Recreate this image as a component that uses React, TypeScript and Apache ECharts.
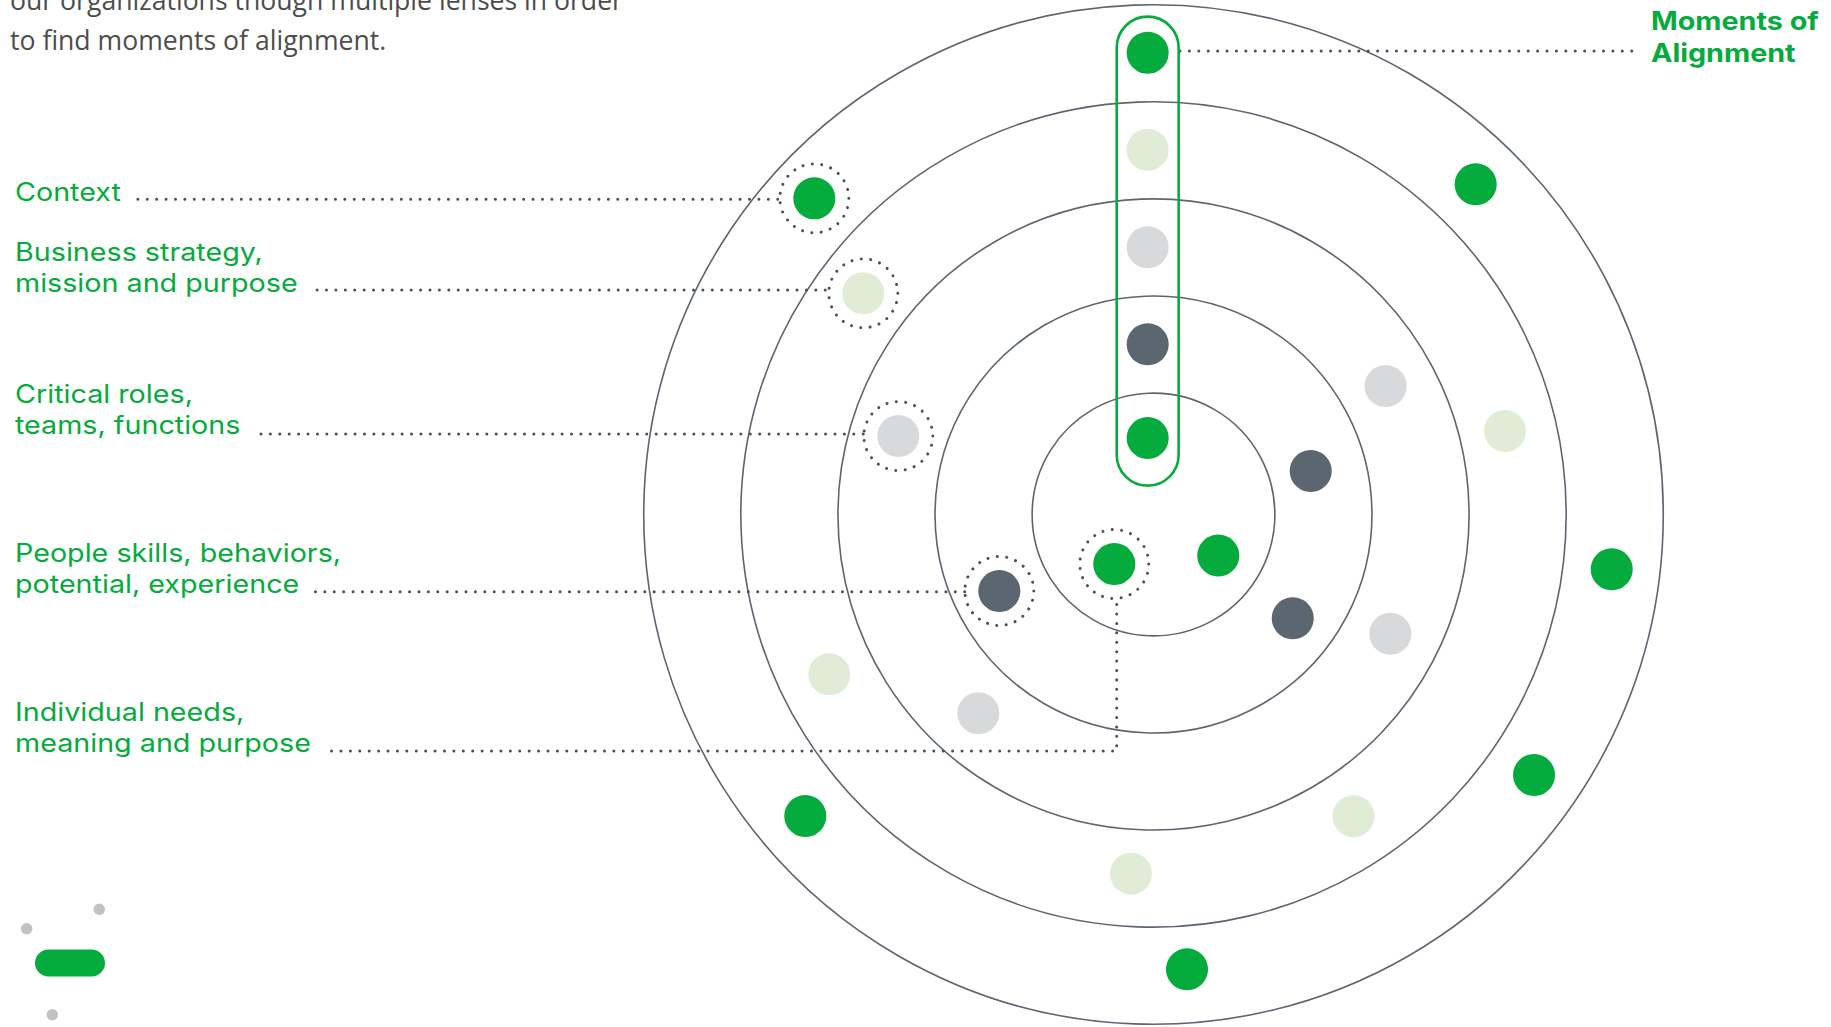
import React, { useEffect, useRef } from "react";
import * as echarts from "echarts";

// ---------- frame (ring units) ----------
const W = 1831;
const H = 1027;
const CX = 1153.5; // pixel position of the rings' common centre
const CY = 514.5;
const U = 97.1; // pixels per ring unit

// ---------- data ----------
const RING_RADII = [1.25, 2.25, 3.25, 4.25, 5.25];

// dot positions in ring units (centre = 0,0, y up)
const DOT_X = [
  -0.06, -0.06, -0.06, -0.06, -0.06,
  -3.493, -2.989, -2.628, -1.588, -0.404,
  0.667, 1.619, 1.434, 2.391, 2.439, 3.62, 3.318, 4.719, 3.919, 2.059,
  -0.232, 0.345, -3.586, -3.339, -1.804,
];
const DOT_Y = [
  4.756, 3.757, 2.752, 1.753, 0.788,
  3.256, 2.278, 0.808, -0.788, -0.51,
  -0.422, 0.448, -1.069, 1.323, -1.228, 0.86, 3.401, -0.564, -2.683, -3.107,
  -3.699, -4.684, -3.105, -1.646, -2.047,
];
const DOT_KIND = [
  "green", "lightGreen", "lightGray", "dark", "green",
  "green", "lightGreen", "lightGray", "dark", "green",
  "green", "dark", "dark", "lightGray", "lightGray", "lightGreen", "green", "green", "green", "lightGreen",
  "lightGreen", "green", "green", "lightGreen", "lightGray",
];
// dots circled by a dotted ring (indices into the dot arrays)
const HIGHLIGHTED = [5, 6, 7, 8, 9];
const HIGHLIGHT_RADIUS = 0.355;

// the "moments of alignment" column outline (ring units)
const CAPSULE_X = [-0.379, 0.259];
const CAPSULE_Y = [0.297, 5.127];

// dotted leader lines (ring units)
const LEADERS: number[][][] = [
  [[0.273, 4.773], [4.959, 4.773]],
  [[-10.46, 3.246], [-3.848, 3.246]],
  [[-8.614, 2.312], [-3.344, 2.312]],
  [[-9.192, 0.829], [-2.983, 0.829]],
  [[-8.631, -0.795], [-1.943, -0.795]],
  [[-8.465, -2.436], [-0.379, -2.436], [-0.379, -0.87]],
];

const INTRO_LINES = [
  "our organizations though multiple lenses in order",
  "to find moments of alignment.",
];
const TITLE_LINES = ["Moments of", "Alignment"];
const LABELS = [
  ["Context"],
  ["Business strategy,", "mission and purpose"],
  ["Critical roles,", "teams, functions"],
  ["People skills, behaviors,", "potential, experience"],
  ["Individual needs,", "meaning and purpose"],
];

// ---------- styles ----------
const COLORS: Record<string, string> = {
  green: "#05AB3C",
  lightGreen: "#E1ECD6",
  lightGray: "#D8D9DB",
  dark: "#5C6670",
};
const RING_COLOR = "#5C6670";
const DOT_LINE = "#4B5057";
const LABEL_FONT = "Inter";
const LABEL_SIZE = 25;
const LABEL_STRETCH = 1.148; // the original face is a wide geometric sans
const LABEL_LAST_BASELINES = [201, 292, 434, 593, 752];
const LABEL_LINE_GAP = 31;

export default function App() {
  const ref = useRef<HTMLDivElement>(null);

  useEffect(() => {
    document.body.style.margin = "0";
    if (!ref.current) return;
    const chart = echarts.init(ref.current, undefined, { renderer: "svg" });

    const dottedStyle = {
      fill: "none",
      stroke: DOT_LINE,
      lineWidth: 3,
      lineDash: [0.01, 9.4],
      lineCap: "round",
    };

    const graphics: any[] = [];
    // intro paragraph
    INTRO_LINES.forEach((t, i) => {
      graphics.push({
        type: "text",
        silent: true,
        style: {
          text: t,
          x: 10,
          y: 10 + i * 40 - 0.388 * 26.6,
          fill: "#4D4D4D",
          font: "400 26.6px 'Open Sans'",
          textAlign: "left",
          textVerticalAlign: "middle",
        },
      });
    });
    // title
    TITLE_LINES.forEach((t, i) => {
      graphics.push({
        type: "text",
        silent: true,
        x: 1651,
        y: 29.5 + i * 32 - 0.363 * 25,
        scaleX: LABEL_STRETCH,
        style: {
          text: t,
          x: 0,
          y: 0,
          fill: COLORS.green,
          font: `700 25px ${LABEL_FONT}`,
          textAlign: "left",
          textVerticalAlign: "middle",
        },
      });
    });
    // category labels
    LABELS.forEach((lines, li) => {
      const last = LABEL_LAST_BASELINES[li];
      lines.forEach((t, i) => {
        const baseline = last - (lines.length - 1 - i) * LABEL_LINE_GAP;
        graphics.push({
          type: "text",
          silent: true,
          x: 15,
          y: baseline - 0.363 * LABEL_SIZE,
          scaleX: LABEL_STRETCH,
          style: {
            text: t,
            x: 0,
            y: 0,
            fill: COLORS.green,
            font: `400 ${LABEL_SIZE}px ${LABEL_FONT}`,
            textAlign: "left",
            textVerticalAlign: "middle",
          },
        });
      });
    });
    // small decoration bottom-left
    [[99.3, 909.3], [26.7, 928.7], [52.3, 1014.7]].forEach(([x, y]) => {
      graphics.push({
        type: "circle",
        silent: true,
        shape: { cx: x, cy: y, r: 5.7 },
        style: { fill: "#C2C2C2" },
      });
    });
    graphics.push({
      type: "rect",
      silent: true,
      shape: { x: 35, y: 949.5, width: 70, height: 27, r: 13.5 },
      style: { fill: COLORS.green },
    });

    const option: any = {
      animation: false,
      backgroundColor: "#ffffff",
      grid: { left: 0, top: 0, width: W, height: H },
      xAxis: { type: "value", min: -CX / U, max: (W - CX) / U, show: false },
      yAxis: { type: "value", min: -(H - CY) / U, max: CY / U, show: false },
      series: [
        {
          type: "custom",
          name: "rings",
          silent: true,
          data: RING_RADII.map((r) => [0, 0, r]),
          encode: { x: 0, y: 1 },
          renderItem: (params: any, api: any) => {
            const c = api.coord([0, 0]);
            const r = api.size([api.value(2), 0])[0];
            return {
              type: "circle",
              shape: { cx: c[0], cy: c[1], r },
              style: { fill: "none", stroke: RING_COLOR, lineWidth: 1.6 },
            };
          },
        },
        {
          type: "custom",
          name: "leaders",
          silent: true,
          data: LEADERS.map((l, i) => [l[0][0], l[0][1], i]),
          encode: { x: 0, y: 1 },
          renderItem: (params: any, api: any) => {
            const pts = LEADERS[params.dataIndex].map((p) => api.coord(p));
            return { type: "polyline", shape: { points: pts }, style: dottedStyle };
          },
        },
        {
          type: "custom",
          name: "highlight",
          silent: true,
          data: HIGHLIGHTED.map((i) => [DOT_X[i], DOT_Y[i]]),
          encode: { x: 0, y: 1 },
          renderItem: (params: any, api: any) => {
            const c = api.coord([api.value(0), api.value(1)]);
            const r = api.size([HIGHLIGHT_RADIUS, 0])[0];
            return { type: "circle", shape: { cx: c[0], cy: c[1], r }, style: dottedStyle };
          },
        },
        {
          type: "custom",
          name: "column",
          silent: true,
          data: [[CAPSULE_X[0], CAPSULE_Y[1]]],
          encode: { x: 0, y: 1 },
          renderItem: (params: any, api: any) => {
            const tl = api.coord([CAPSULE_X[0], CAPSULE_Y[1]]);
            const br = api.coord([CAPSULE_X[1], CAPSULE_Y[0]]);
            const w = br[0] - tl[0];
            const h = br[1] - tl[1];
            return {
              type: "rect",
              shape: { x: tl[0], y: tl[1], width: w, height: h, r: w / 2 },
              style: { fill: "none", stroke: COLORS.green, lineWidth: 2.6 },
            };
          },
        },
        {
          type: "scatter",
          name: "dots",
          silent: true,
          symbol: "circle",
          symbolSize: 42,
          itemStyle: { opacity: 1 },
          data: DOT_X.map((x, i) => ({
            value: [x, DOT_Y[i]],
            itemStyle: { color: COLORS[DOT_KIND[i]], opacity: 1 },
          })),
        },
      ],
      graphic: { elements: graphics },
    };

    chart.setOption(option);
    return () => chart.dispose();
  }, []);

  return <div ref={ref} style={{ width: W, height: H }} />;
}
